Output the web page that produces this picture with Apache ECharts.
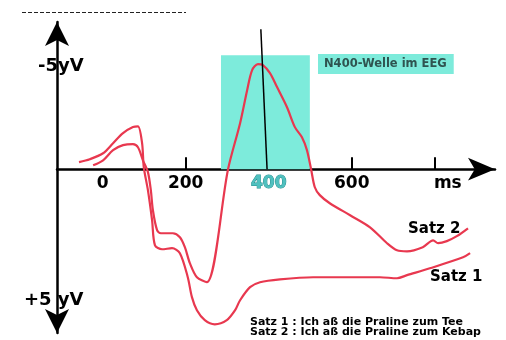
<!DOCTYPE html>
<html>
<head>
<meta charset="utf-8">
<script src="https://cdn.jsdelivr.net/npm/echarts@6/dist/echarts.min.js"></script>
<style>
  html, body { margin: 0; padding: 0; background: #fff; }
  #chart { width: 506px; height: 340px; }
</style>
</head>
<body>
<div id="chart"></div>
<script>
// time in ms after the word, voltage in µV (negative is drawn upwards)
const satz1Ms = [-57, -31, 1, 25, 49, 73, 85, 95, 99, 109, 119, 126, 143, 167, 186, 205, 215, 227, 246, 270, 299, 319, 331, 355, 379, 427, 507, 588, 668, 709, 733, 788, 868, 885];
const satz1Uv = [-0.34, -0.48, -0.77, -1.25, -1.74, -2.03, -2.07, -1.25, -0.1, 1.01, 2.46, 3.67, 3.86, 3.81, 4.05, 5.21, 6.17, 6.8, 7.28, 7.48, 7.28, 6.8, 6.32, 5.69, 5.45, 5.31, 5.21, 5.21, 5.21, 5.26, 5.11, 4.78, 4.25, 4.05];

const satz2Ms = [-23, 1, 25, 49, 73, 85, 97, 109, 116, 121, 131, 140, 169, 186, 198, 210, 227, 251, 302, 331, 348, 360, 374, 386, 403, 420, 444, 463, 480, 492, 502, 511, 523, 547, 596, 644, 685, 709, 733, 771, 796, 808, 829, 853, 880];
const satz2Uv = [-0.19, -0.43, -0.92, -1.16, -1.21, -1.06, -0.43, 0.14, 1.01, 1.98, 2.94, 3.09, 3.09, 3.28, 3.76, 4.53, 5.21, 5.45, 0, -2.22, -3.81, -4.78, -5.07, -5.02, -4.63, -3.96, -2.99, -2.03, -1.54, -0.92, 0, 0.87, 1.25, 1.64, 2.22, 2.8, 3.57, 3.91, 3.96, 3.76, 3.43, 3.57, 3.47, 3.23, 2.85];

const tickValues = [200, 400, 600, 800];
const labelValues = [0, 200, 400, 600, 800];
const n400Window = [285, 499];   // ms
const n400Top = -5.5;            // µV
const peakLineMs = [381, 396];
const peakLineUv = [-6.75, 0];

const yMin = -7.1;
const yMax = 7.9;

const zip = (xs, ys) => xs.map((x, i) => [x, ys[i]]);

const red = '#e8384f';
const gridTop = 22;
const gridBottom = 7;
const gridHeight = 340 - gridTop - gridBottom;
// move the time axis up from the bottom of the grid to the 0 µV line
const zeroOffset = -gridHeight * yMax / (yMax - yMin);

let chart = echarts.init(document.getElementById('chart'));

let option = {
  backgroundColor: '#fff',
  animation: false,
  grid: { left: 57, right: 11, top: gridTop, bottom: gridBottom, containLabel: false, outerBoundsMode: 'none' },
  xAxis: {
    type: 'value',
    min: -110,
    max: 945,
    offset: zeroOffset,
    splitLine: { show: false },
    axisLine: {
      onZero: false,
      symbol: ['none', 'arrow'],
      symbolSize: [17, 27],
      lineStyle: { color: '#000', width: 2.5 }
    },
    axisTick: {
      customValues: tickValues,
      inside: true,
      length: 12,
      lineStyle: { color: '#000', width: 2 }
    },
    axisLabel: {
      customValues: labelValues,
      margin: 6,
      fontFamily: 'DejaVu Sans',
      fontSize: 17,
      fontWeight: 'bold',
      color: '#000',
      formatter: v => {
        if (v === 800) return '{ms|ms}';
        if (v === 400) return '{hl|400}';
        return '' + v;
      },
      rich: {
        ms: { fontFamily: 'DejaVu Sans', fontSize: 17, fontWeight: 'bold', color: '#000', padding: [0, 0, 0, 26] },
        hl: { fontFamily: 'DejaVu Sans', fontSize: 17, fontWeight: 'bold', color: '#4fc0bf', textBorderColor: '#278f8e', textBorderWidth: 1 }
      }
    }
  },
  yAxis: {
    type: 'value',
    inverse: true,
    min: yMin,
    max: yMax,
    splitLine: { show: false },
    axisTick: { show: false },
    axisLabel: { show: false },
    axisLine: {
      onZero: false,
      symbol: ['arrow', 'arrow'],
      symbolSize: [18, 24],
      lineStyle: { color: '#000', width: 2.5 }
    }
  },
  series: [
    {
      name: 'N400',
      type: 'line',
      data: [],
      z: 1,
      silent: true,
      markArea: {
        silent: true,
        itemStyle: { color: '#7debdb' },
        data: [[{ xAxis: n400Window[0], yAxis: n400Top }, { xAxis: n400Window[1], yAxis: 0 }]]
      }
    },
    {
      name: 'Satz 1',
      type: 'line',
      data: zip(satz1Ms, satz1Uv),
      smooth: 0.3,
      showSymbol: false,
      z: 3,
      lineStyle: { color: red, width: 2.2 }
    },
    {
      name: 'Satz 2',
      type: 'line',
      data: zip(satz2Ms, satz2Uv),
      smooth: 0.3,
      showSymbol: false,
      z: 3,
      lineStyle: { color: red, width: 2.2 }
    },
    {
      name: 'peak',
      type: 'line',
      data: zip(peakLineMs, peakLineUv),
      showSymbol: false,
      z: 4,
      lineStyle: { color: '#000', width: 1.5 }
    }
  ],
  graphic: [
    {
      type: 'line',
      shape: { x1: 22, y1: 12.5, x2: 186, y2: 12.5 },
      style: { stroke: '#222', lineWidth: 1, lineDash: [4, 2] }
    },
    {
      type: 'text', x: 38, y: 66,
      style: { text: '-5yV', font: 'bold 18px "DejaVu Sans"', fill: '#000', textVerticalAlign: 'middle' }
    },
    {
      type: 'text', x: 24, y: 300,
      style: { text: '+5 yV', font: 'bold 18px "DejaVu Sans"', fill: '#000', textVerticalAlign: 'middle' }
    },
    {
      type: 'text', x: 318, y: 54,
      style: {
        text: 'N400-Welle im EEG',
        font: 'bold 11.5px "DejaVu Sans"',
        fill: '#2f5450',
        backgroundColor: '#7debdb',
        padding: [4, 7, 4, 6]
      }
    },
    {
      type: 'text', x: 408, y: 229,
      style: { text: 'Satz 2', font: 'bold 15px "DejaVu Sans"', fill: '#000', textVerticalAlign: 'middle' }
    },
    {
      type: 'text', x: 430, y: 277,
      style: { text: 'Satz 1', font: 'bold 15px "DejaVu Sans"', fill: '#000', textVerticalAlign: 'middle' }
    },
    {
      type: 'text', x: 250, y: 322,
      style: { text: 'Satz 1 : Ich aß die Praline zum Tee', font: 'bold 11px "DejaVu Sans"', fill: '#000', textVerticalAlign: 'middle' }
    },
    {
      type: 'text', x: 250, y: 332.5,
      style: { text: 'Satz 2 : Ich aß die Praline zum Kebap', font: 'bold 11px "DejaVu Sans"', fill: '#000', textVerticalAlign: 'middle' }
    }
  ]
};

chart.setOption(option);
</script>
</body>
</html>
